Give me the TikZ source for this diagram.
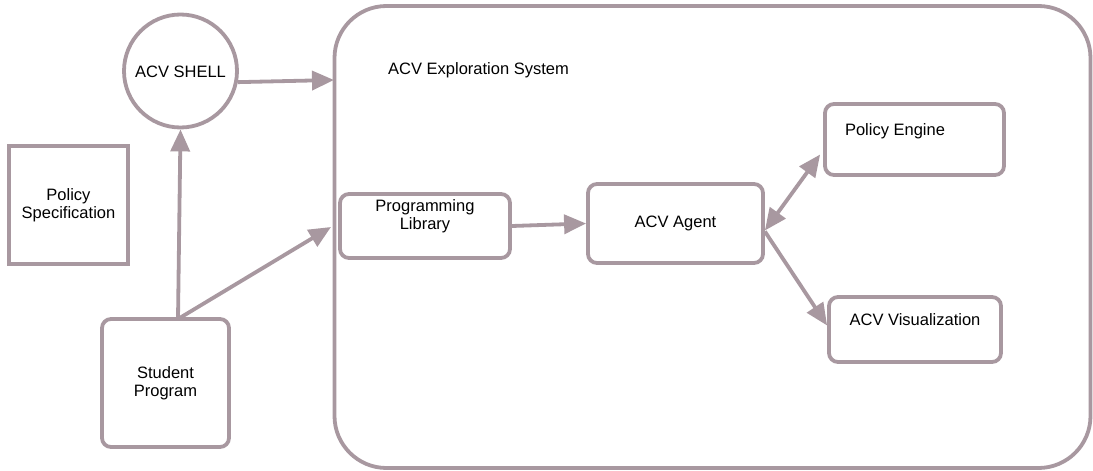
\documentclass[tikz,border=0pt]{standalone}
\usepackage{fontspec}
\setmainfont{Liberation Sans}
\usetikzlibrary{arrows.meta}
\definecolor{mauve}{RGB}{168,152,160}
\begin{document}
\begin{tikzpicture}[x=1pt,y=-1pt,
  every node/.style={font=\fontsize{16.5}{18.5}\selectfont, text=black},
  box/.style={draw=mauve, line width=3.8pt, fill=white, inner sep=0pt},
  rbox/.style={box, rounded corners=9pt},
  txt/.style={align=center, inner sep=0pt},
  arr/.style={draw=mauve, line width=3.8pt, -{Triangle[length=22pt,width=19pt]}},
  darr/.style={draw=mauve, line width=3.8pt, {Triangle[length=22pt,width=19pt]}-{Triangle[length=22pt,width=19pt]}}]
\useasboundingbox (0,0) rectangle (1093,471);
% big system container
\node[box, rounded corners=52pt, minimum width=756pt, minimum height=462pt] (sys) at (712.5,237) {};
\node[txt, anchor=west] (systxt) at (388,70) {ACV Exploration System};
% left column
\node[box, circle, minimum size=113pt] (shell) at (180.5,71) {};
\node[txt] (shelltxt) at (180.5,72) {ACV SHELL};
\node[box, minimum width=119pt, minimum height=118pt, txt] (ps) at (68.5,205) {Policy\\Specification};
\node[rbox, minimum width=127pt, minimum height=128pt, txt] (sp) at (165.5,383) {Student\\Program};
% inner components
\node[rbox, minimum width=170pt, minimum height=64pt] (pl) at (425,226) {};
\node[txt] (pltxt) at (425,216) {Programming\\Library};
\node[rbox, minimum width=175pt, minimum height=79pt, txt] (agent) at (675.5,223.5) {ACV Agent};
\node[rbox, minimum width=179pt, minimum height=71pt] (pe) at (914.5,139.5) {};
\node[txt] (petxt) at (895,131) {Policy Engine};
\node[rbox, minimum width=172pt, minimum height=65pt] (vis) at (915,329.5) {};
\node[txt] (vistxt) at (915,320) {ACV Visualization};
% connector points
\coordinate (in1) at (334,80);
\coordinate (in2) at (331,227);
\coordinate (fork) at (178,319);
% connectors
\draw[arr] (shell.-11) -- (in1);
\draw[arr] (fork) -- (shell.south);
\draw[arr] (fork) -- (in2);
\draw[arr] (pl.east) -- (agent.west);
\draw[darr] ([yshift=-7pt]agent.east) -- ([xshift=-3pt,yshift=-15pt]pe.west);
\draw[arr] ([yshift=-8pt]agent.east) -- ([yshift=4pt]vis.west);
\end{tikzpicture}
\end{document}
